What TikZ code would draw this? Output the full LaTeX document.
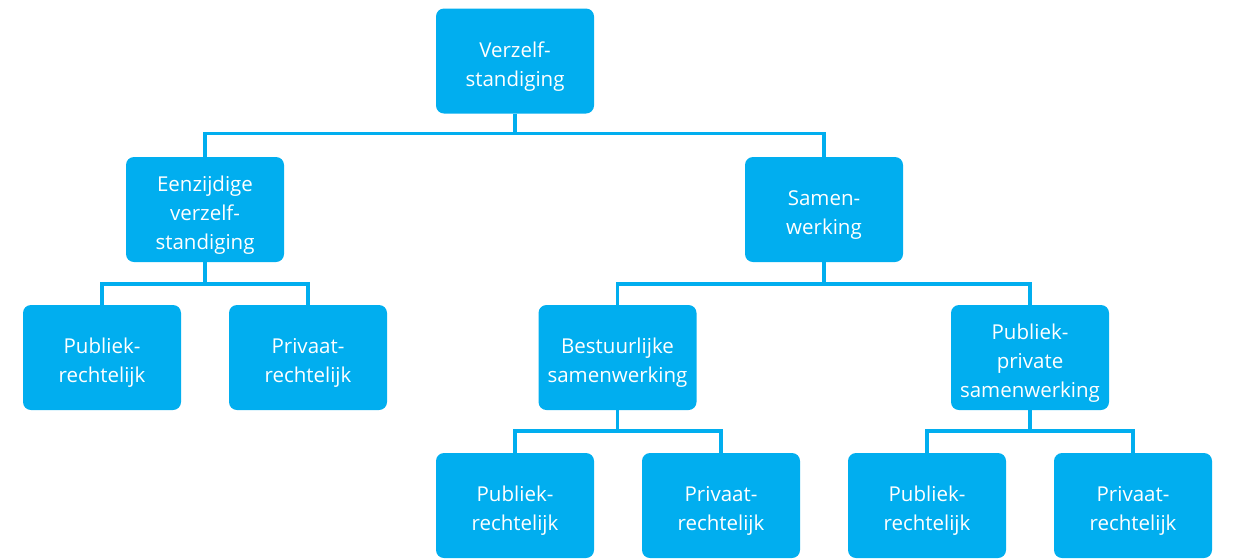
\documentclass[tikz,border=0pt]{standalone}
\usepackage{fontspec}
\setmainfont{Open Sans}
\definecolor{rijksblauw}{RGB}{1,174,239}
\newcommand{\opstap}{\rule{0pt}{26pt}}

\begin{document}
\begin{tikzpicture}[x=1pt,y=-1pt,
  blok/.style={fill=rijksblauw,rounded corners=8pt,minimum width=158pt,minimum height=105pt,
    text=white,align=center,font=\fontsize{20.5}{29}\selectfont,inner sep=0pt},
  lijn/.style={draw=rijksblauw,line width=3.5pt}]
\useasboundingbox (0,0) rectangle (1238,558);

\node[blok] (root) at (515,61) {\opstap Verzelf-\\standiging};
\node[blok] (eenz) at (205,209.5) {\opstap Eenzijdige\\verzelf-\\standiging};
\node[blok] (samen) at (824,209.5) {\opstap Samen-\\werking};

\node[blok] (pub1) at (102,357.5) {\opstap Publiek-\\rechtelijk};
\node[blok] (priv1) at (308,357.5) {\opstap Privaat-\\rechtelijk};
\node[blok] (best) at (617.5,357.5) {\opstap Bestuurlijke\\samenwerking};
\node[blok] (pps) at (1030,357.5) {\opstap Publiek-\\private\\samenwerking};

\node[blok] (pub2) at (515,505.5) {\opstap Publiek-\\rechtelijk};
\node[blok] (priv2) at (721,505.5) {\opstap Privaat-\\rechtelijk};
\node[blok] (pub3) at (927,505.5) {\opstap Publiek-\\rechtelijk};
\node[blok] (priv3) at (1133,505.5) {\opstap Privaat-\\rechtelijk};

\draw[lijn] (root.south) -- ++(0,20) -| (eenz.north);
\draw[lijn] (root.south) -- ++(0,20) -| (samen.north);
\draw[lijn] (eenz.south) -- ++(0,22) -| (pub1.north);
\draw[lijn] (eenz.south) -- ++(0,22) -| (priv1.north);
\draw[lijn] (samen.south) -- ++(0,22) -| (best.north);
\draw[lijn] (samen.south) -- ++(0,22) -| (pps.north);
\draw[lijn] (best.south) -- ++(0,21) -| (pub2.north);
\draw[lijn] (best.south) -- ++(0,21) -| (priv2.north);
\draw[lijn] (pps.south) -- ++(0,21) -| (pub3.north);
\draw[lijn] (pps.south) -- ++(0,21) -| (priv3.north);

\end{tikzpicture}
\end{document}
